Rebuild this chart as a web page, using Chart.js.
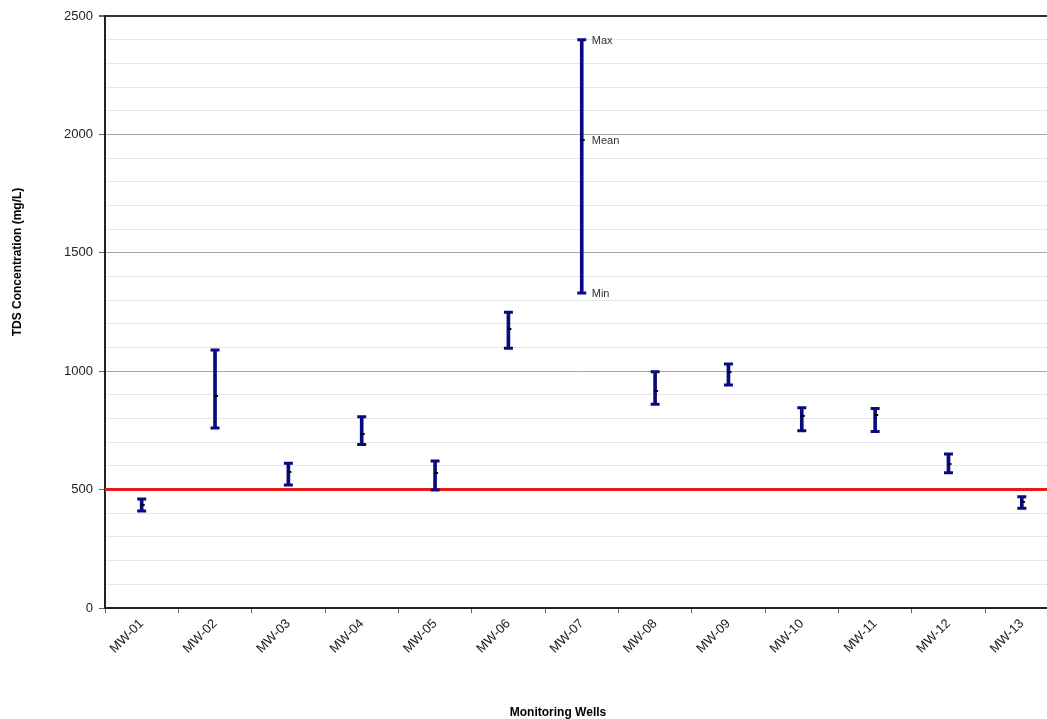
<!DOCTYPE html>
<html>
<head>
<meta charset="utf-8">
<title>TDS Concentration by Monitoring Well</title>
<script src="https://cdn.jsdelivr.net/npm/chart.js@4/dist/chart.umd.min.js"></script>
<style>
  html, body { margin: 0; padding: 0; background: #ffffff; overflow: hidden; }
  #wrap { width: 1047px; height: 719px; overflow: hidden; }
  canvas { display: block; }
</style>
</head>
<body>
<div id="wrap"><canvas id="chart" width="1066" height="719"></canvas></div>
<script>
// Monitoring wells and TDS summary statistics (mg/L)
const wells = ['MW-01','MW-02','MW-03','MW-04','MW-05','MW-06','MW-07','MW-08','MW-09','MW-10','MW-11','MW-12','MW-13'];
const tdsMax  = [460, 1090, 611, 808, 621, 1249, 2400, 998, 1030, 846, 843, 650, 470];
const tdsMean = [437,  897, 576, 735, 569, 1178, 1976, 918,  995, 811, 815, 608, 449];
const tdsMin  = [410,  760, 519, 690, 498, 1097, 1330, 860,  942, 749, 745, 571, 421];

// Secondary drinking water standard for TDS
const tdsStandard = 500;

// Y axis range and tick spacing
const yMin = 0, yMax = 2500, yStep = 100, yLabelStep = 500;

// Well annotated with Max / Mean / Min labels
const annotatedWell = 'MW-07';

const NAVY = '#0a0a80';
const FONT = '"Liberation Sans", Arial, sans-serif';

// Mean marker: a short black dash sitting just right of the range bar
const meanMarker = document.createElement('canvas');
meanMarker.width = 10;
meanMarker.height = 2;
(function () {
  const g = meanMarker.getContext('2d');
  g.fillStyle = '#000000';
  g.fillRect(4, 0, 4, 2);
})();

const standardLine = {
  id: 'standardLine',
  beforeDatasetsDraw(chart) {
    const { ctx, chartArea, scales } = chart;
    const y = scales.y.getPixelForValue(tdsStandard);
    ctx.save();
    ctx.strokeStyle = '#e8191c';
    ctx.lineWidth = 3;
    ctx.beginPath();
    ctx.moveTo(chartArea.left, y);
    ctx.lineTo(chartArea.right, y);
    ctx.stroke();
    ctx.restore();
  }
};

const annotations = {
  id: 'annotations',
  afterDraw(chart) {
    const { ctx, scales } = chart;
    const i = wells.indexOf(annotatedWell);
    const x = scales.x.getPixelForValue(i) + 10;
    ctx.save();
    ctx.fillStyle = '#333333';
    ctx.font = '11px ' + FONT;
    ctx.textAlign = 'left';
    ctx.textBaseline = 'middle';
    ctx.fillText('Max', x, scales.y.getPixelForValue(tdsMax[i]) + 1);
    ctx.fillText('Mean', x, scales.y.getPixelForValue(tdsMean[i]) + 1);
    ctx.fillText('Min', x, scales.y.getPixelForValue(tdsMin[i]) + 1);

    // Axis titles
    ctx.fillStyle = '#000000';
    ctx.font = 'bold 12px ' + FONT;
    ctx.textAlign = 'center';
    ctx.textBaseline = 'middle';
    ctx.fillText('Monitoring Wells', 558, 713);
    ctx.translate(18, 262);
    ctx.rotate(-Math.PI / 2);
    ctx.fillText('TDS Concentration (mg/L)', 0, 0);
    ctx.restore();
  }
};

new Chart(document.getElementById('chart'), {
  type: 'bar',
  data: {
    labels: wells,
    datasets: [
      {
        type: 'line',
        label: 'Mean',
        data: tdsMean,
        showLine: false,
        pointStyle: meanMarker,
        pointRadius: 5,
        order: 0
      },
      {
        type: 'line',
        label: 'Max',
        data: tdsMax,
        showLine: false,
        pointStyle: 'line',
        pointRadius: 4.5,
        pointBorderWidth: 3,
        pointBorderColor: NAVY,
        order: 1
      },
      {
        type: 'line',
        label: 'Min',
        data: tdsMin,
        showLine: false,
        pointStyle: 'line',
        pointRadius: 4.5,
        pointBorderWidth: 3,
        pointBorderColor: NAVY,
        order: 1
      },
      {
        label: 'Range',
        data: wells.map((w, i) => [tdsMin[i], tdsMax[i]]),
        backgroundColor: NAVY,
        borderWidth: 0,
        barThickness: 3,
        order: 2
      }
    ]
  },
  options: {
    responsive: false,
    animation: false,
    layout: { padding: { top: 16, left: 0, right: 2, bottom: 0 } },
    plugins: { legend: { display: false }, tooltip: { enabled: false } },
    scales: {
      x: {
        offset: true,
        afterFit(scale) { scale.height = 111; },
        grid: {
          offset: true,
          drawOnChartArea: false,
          tickLength: 5,
          tickColor: '#666666'
        },
        border: { color: '#222222', width: 2 },
        ticks: {
          color: '#222222',
          font: { family: FONT, size: 13 },
          minRotation: 45,
          maxRotation: 45,
          padding: 3
        }
      },
      y: {
        min: yMin,
        max: yMax,
        afterFit(scale) { scale.width = 105; },
        grid: {
          color: (c) => c.tick.value === yMax ? '#333333'
                     : (c.tick.value % yLabelStep === 0 ? '#a6a6a6' : '#e6e6e6'),
          lineWidth: (c) => c.tick.value === yMax ? 2 : 1,
          tickLength: 6,
          tickColor: (c) => c.tick.value % yLabelStep === 0 ? '#666666' : 'rgba(0,0,0,0)'
        },
        border: { color: '#222222', width: 2 },
        ticks: {
          stepSize: yStep,
          autoSkip: false,
          color: '#222222',
          font: { family: FONT, size: 13 },
          padding: 6,
          callback: (v) => v % yLabelStep === 0 ? String(v) : ''
        }
      }
    }
  },
  plugins: [standardLine, annotations]
});
</script>
</body>
</html>
